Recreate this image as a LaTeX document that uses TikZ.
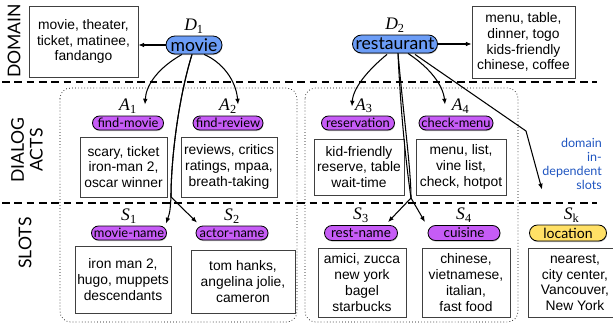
\documentclass[tikz,border=0pt]{standalone}
\usepackage[no-math]{fontspec}
\newfontfamily\boxfont{Liberation Sans}
\newfontfamily\tagfont{Liberation Serif}
\newfontfamily\gill{Lato}
\usetikzlibrary{arrows.meta,positioning,shapes.misc,shadows,calc}
\definecolor{DomainBlue}{HTML}{6C9DF6}
\definecolor{ActPurple}{HTML}{C65CF6}
\definecolor{SlotYellow}{HTML}{FFE066}
\definecolor{NoteBlue}{HTML}{1F55C0}
\newcommand\lbl[2]{\textit{#1}\textsubscript{#2}}

\begin{document}
\begin{tikzpicture}[x=0.03cm,y=-0.03cm,node distance=1pt,>={Latex[length=5pt,width=4pt]}]
        \tikzset{
          sepline/.style={line width=1.7pt,dash pattern=on 6.5pt off 4pt},
          group/.style={draw,line width=0.6pt,dotted,rounded corners=9pt},
          wordbox/.style={
            draw=black!75,
            fill=white,
            line width=0.6pt,
            align=center,
            inner sep=1pt,
            font=\boxfont\fontsize{11.8}{13.5}\selectfont
          },
          pill/.style={
            rounded rectangle,
            draw,
            line width=0.7pt,
            inner sep=0pt,
            drop shadow={shadow xshift=0.4pt,shadow yshift=-0.9pt,opacity=0.55}
          },
          dompill/.style={pill,fill=DomainBlue,minimum height=0.54cm,font=\gill\fontsize{15}{15}\selectfont},
          actpill/.style={pill,fill=ActPurple,minimum height=0.42cm,font=\gill\fontsize{11}{11}\selectfont},
          slotpill/.style={pill,fill=ActPurple,minimum height=0.45cm,font=\gill\fontsize{11.5}{11.5}\selectfont},
          tag/.style={inner sep=1pt,font=\tagfont\fontsize{15}{15}\selectfont},
          side/.style={rotate=90,align=center,font=\gill\fontsize{15}{16}\selectfont},
          link/.style={->,line width=0.9pt}
        }
        \useasboundingbox (0,0) rectangle (613,324);

        \draw[group] (60,88) rectangle (297,322);
        \draw[group] (305,88) rectangle (518,322);
        \draw[sepline] (2,82) -- (597,82);
        \draw[sepline] (2,203) -- (597,203);

        \node[side] at (14,41) {DOMAIN};
        \node[side] at (27,150) {DIALOG\\ACTS};
        \node[side] at (25,243) {SLOTS};

        \node[dompill,minimum width=1.68cm] (movie) at (194,45) {movie};
        \node[dompill,minimum width=2.55cm] (rest) at (395,44) {restaurant};
        \node[tag,above=of movie] {\lbl{D}{1}};
        \node[tag,above=of rest] {\lbl{D}{2}};
        \node[wordbox,minimum width=3.27cm,minimum height=2.13cm] (movieword) at (83.5,41.5)
          {movie, theater,\\ticket, matinee,\\fandango};
        \node[wordbox,minimum width=3.09cm,minimum height=2.16cm] (restword) at (523.5,42)
          {menu, table,\\dinner, togo\\kids-friendly\\chinese, coffee};

        \node[actpill,minimum width=2.13cm] (findmovie) at (128,123) {find-movie};
        \node[actpill,minimum width=2.1cm] (findreview) at (228,123) {find-review};
        \node[actpill,minimum width=2.19cm] (reserve) at (358,123) {reservation};
        \node[actpill,minimum width=2.22cm] (checkmenu) at (456,123) {check-menu};
        \node[tag,above=of findmovie] {\lbl{A}{1}};
        \node[tag,above=of findreview] {\lbl{A}{2}};
        \node[tag,above=of reserve,xshift=5pt] {\lbl{A}{3}};
        \node[tag,above=of checkmenu,xshift=4pt] {\lbl{A}{4}};
        \node[wordbox,minimum width=2.61cm,minimum height=1.8cm] (fmword) at (123.5,167)
          {scary, ticket\\iron-man 2,\\oscar winner};
        \node[wordbox,minimum width=2.88cm,minimum height=1.8cm] (frword) at (229,167)
          {reviews, critics\\ratings, mpaa,\\breath-taking};
        \node[wordbox,minimum width=2.7cm,minimum height=1.68cm] (rsword) at (359,167)
          {kid-friendly\\reserve, table\\wait-time};
        \node[wordbox,minimum width=2.7cm,minimum height=1.68cm] (cmword) at (461,167)
          {menu, list,\\vine list,\\check, hotpot};

        \node[text=NoteBlue,anchor=east,align=right,inner sep=0pt,font=\gill\fontsize{10.7}{12}\selectfont] (note) at (602,164)
          {domain\\in-\\dependent\\slots};

        \node[slotpill,minimum width=2.25cm,minimum height=0.42cm,font=\gill\fontsize{11}{11}\selectfont] (moviename) at (129,233) {movie-name};
        \node[slotpill,minimum width=2.16cm,minimum height=0.42cm,font=\gill\fontsize{11}{11}\selectfont] (actorname) at (232,233) {actor-name};
        \node[slotpill,minimum width=2.19cm] (restname) at (361,233) {rest-name};
        \node[slotpill,minimum width=2.16cm] (cuisine) at (464,233) {cuisine};
        \node[slotpill,fill=SlotYellow,minimum width=2.31cm,minimum height=0.48cm,font=\gill\fontsize{12}{12}\selectfont] (location) at (568,233) {location};
        \node[tag,above=of moviename] {\lbl{S}{1}};
        \node[tag,above=of actorname] {\lbl{S}{2}};
        \node[tag,above=of restname] {\lbl{S}{3}};
        \node[tag,above=of cuisine] {\lbl{S}{4}};
        \node[tag,above=of location,xshift=3pt] {\lbl{S}{k}};
        \node[wordbox,minimum width=2.88cm,minimum height=2.01cm] (mnword) at (123,279.5)
          {iron man 2,\\hugo, muppets\\descendants};
        \node[wordbox,minimum width=3.12cm,minimum height=1.89cm] (anword) at (243,281.5)
          {tom hanks,\\angelina jolie,\\cameron};
        \node[wordbox,minimum width=2.64cm,minimum height=2.07cm] (rnword) at (362,282.5)
          {amici, zucca\\new york\\bagel\\starbucks};
        \node[wordbox,minimum width=2.64cm,minimum height=2.07cm] (cuword) at (466,282.5)
          {chinese,\\vietnamese,\\italian,\\fast food};
        \node[wordbox,minimum width=2.79cm,minimum height=2.07cm] (lcword) at (575,282.5)
          {nearest,\\city center,\\Vancouver,\\New York};

        \draw[link] (movie.west) -- (movieword.east |- movie.west);
        \draw[link] (rest.east) -- (restword.west |- rest.east);
        \draw[link] ($(movie.south)+(-12,0)$) .. controls (158,68) and (146,85) .. ($(findmovie.north)+(17,-11)$);
        \draw[link] ($(movie.south)+(10,0)$) .. controls (222,62) and (236,80) .. ($(findreview.north)+(10,-11)$);
        \draw[link] ($(movie.south)+(-2,0)$) .. controls (178,100) and (171,160) .. (171,197)
          .. controls (170,212) .. ($(moviename.north)+(37,-2)$);
        \draw[link] ($(movie.south)+(-2,0)$) .. controls (178,100) and (171,160) .. (171,197)
          -- ($(actorname.north)+(-35,-3)$);
        \draw[link] ($(rest.south)+(-8,1)$) .. controls (368,70) and (353,88) .. ($(reserve.north)+(-6,-9)$);
        \draw[link] ($(rest.south)+(13,0)$) .. controls (430,68) and (443,85) .. ($(checkmenu.north)+(-11,-11)$);
        \draw[link] ($(rest.south)+(3,0)$) .. controls (404,120) and (411,170) .. (411,198)
          -- ($(restname.north)+(27,-3)$);
        \draw[link] ($(rest.south)+(3,0)$) .. controls (401,120) and (407,170) .. (411,198)
          -- ($(cuisine.north)+(-39,-3)$);
        \draw[link] ($(rest.south)+(20,1)$) -- (526,131) -- ($(location.north)+(-26,-35)$);
      \end{tikzpicture}
\end{document}
